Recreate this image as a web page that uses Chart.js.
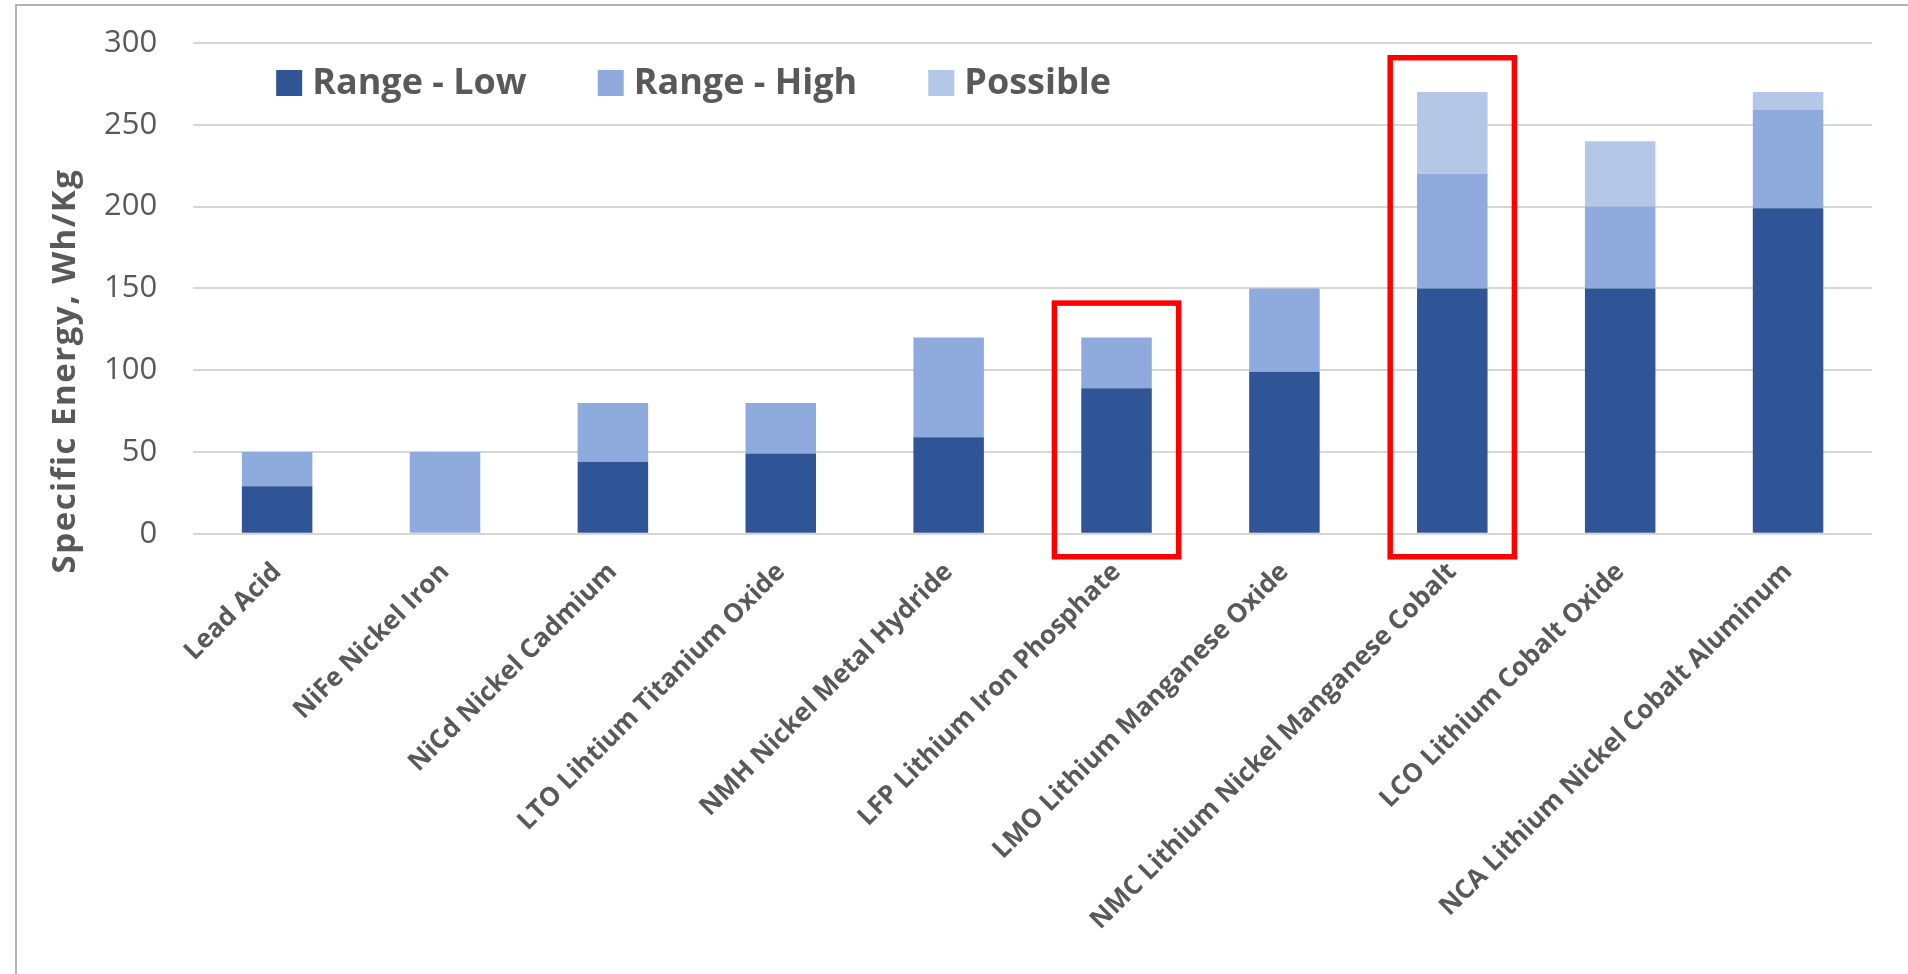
<!DOCTYPE html>
<html>
<head>
<meta charset="utf-8">
<title>Specific Energy by Battery Chemistry</title>
<script src="https://cdn.jsdelivr.net/npm/chart.js@4.4.1/dist/chart.umd.min.js"></script>
<style>
  html, body { margin: 0; padding: 0; background: #fff; }
  #wrap { position: relative; width: 1908px; height: 974px; }
  /* cropped excel frame: only top + left edges visible */
  #frame { position: absolute; left: 15px; top: 4px; right: -10px; bottom: -10px;
           border-left: 2px solid #b3b3b3; border-top: 2px solid #b3b3b3; }
  #chart { position: absolute; left: 0; top: 0; }
</style>
</head>
<body>
<div id="wrap">
  <div id="frame"></div>
  <canvas id="chart" width="1908" height="974"></canvas>
</div>
<script>
// battery chemistries, specific energy in Wh/kg
const categories = [
  'Lead Acid',
  'NiFe Nickel Iron',
  'NiCd Nickel Cadmium',
  'LTO Lihtium Titanium Oxide',
  'NMH Nickel Metal Hydride',
  'LFP Lithium Iron Phosphate',
  'LMO Lithium Manganese Oxide',
  'NMC Lithium Nickel Manganese Cobalt',
  'LCO Lithium Cobalt Oxide',
  'NCA Lithium Nickel Cobalt Aluminum'
];

const rangeLow  = [29, 0, 44, 49, 59, 89, 99, 150, 150, 199];
const rangeHigh = [50, 50, 80, 80, 120, 120, 150, 220, 200, 259];
const possible  = [null, null, null, null, null, null, null, 270, 240, 270];

const yTicks = [0, 50, 100, 150, 200, 250, 300];

// red boxes drawn around two of the bars (index, value of the box top)
const highlightIdx = [5, 7];
const highlightTop = [141, 291];

const yTitle = 'Specific Energy, Wh/Kg';

const GREY = '#595959';
const FONT = "'Open Sans', 'DejaVu Sans', sans-serif";

// floating segments so each colour sits on top of the previous one
const highSeg = rangeHigh.map((v, i) => [rangeLow[i], v]);
const possSeg = possible.map((v, i) => v == null ? null : [rangeHigh[i], v]);


// excel style legend sitting inside the plot, one row
const inlineLegend = {
  id: 'inlineLegend',
  afterDraw(chart) {
    const ctx = chart.ctx;
    const ca = chart.chartArea;
    let x = ca.left + 83;
    const yMid = ca.top + 40;
    ctx.save();
    ctx.font = 'bold 36px ' + FONT;
    ctx.textBaseline = 'middle';
    ctx.textAlign = 'left';
    chart.data.datasets.forEach(ds => {
      ctx.fillStyle = ds.backgroundColor;
      ctx.fillRect(x, yMid - 13, 26, 26);
      x += 26 + 10;
      ctx.fillStyle = GREY;
      ctx.fillText(ds.label, x, yMid + 1);
      x += ctx.measureText(ds.label).width + 71;
    });
    ctx.restore();
  }
};

// rotated y axis title, placed like the original (a bit below centre)
const axisTitle = {
  id: 'axisTitle',
  afterDraw(chart) {
    const ctx = chart.ctx;
    ctx.save();
    ctx.translate(75, 371);
    ctx.rotate(-Math.PI / 2);
    ctx.font = 'bold 33px ' + FONT;
    ctx.letterSpacing = '1.5px';
    ctx.fillStyle = GREY;
    ctx.textAlign = 'center';
    ctx.textBaseline = 'alphabetic';
    ctx.fillText(yTitle, 0, 0);
    ctx.restore();
  }
};

// red highlight rectangles
const redBoxes = {
  id: 'redBoxes',
  afterDatasetsDraw(chart) {
    const ctx = chart.ctx;
    const xs = chart.scales.x, ys = chart.scales.y;
    const step = xs.width / categories.length;
    ctx.save();
    ctx.strokeStyle = '#ff0000';
    ctx.lineWidth = 5.5;
    for (let k = 0; k < highlightIdx.length; k++) {
      const cx = xs.getPixelForValue(highlightIdx[k]);
      const top = ys.getPixelForValue(highlightTop[k]);
      const bottom = ys.getPixelForValue(0) + 23;
      ctx.strokeRect(cx - step * 0.37, top, step * 0.74, bottom - top);
    }
    ctx.restore();
  }
};


new Chart(document.getElementById('chart'), {
  type: 'bar',
  data: {
    labels: categories,
    datasets: [
      { label: 'Range - Low',  data: rangeLow,  backgroundColor: '#2F5597' },
      { label: 'Range - High', data: highSeg,   backgroundColor: '#8FAADC' },
      { label: 'Possible',     data: possSeg,   backgroundColor: '#B4C7E7' }
    ]
  },
  options: {
    responsive: false,
    animation: false,
    layout: { padding: { left: 68, top: 43, right: 36, bottom: 23 } },
    datasets: {
      bar: { grouped: false, barPercentage: 0.42, categoryPercentage: 1.0 }
    },
    plugins: {
      tooltip: { enabled: false },
      legend: { display: false }
    },
    scales: {
      x: {
        grid: { display: false },
        border: { display: false },
        ticks: {
          autoSkip: false,
          maxRotation: 45,
          minRotation: 45,
          padding: 15,
          color: GREY,
          font: { family: FONT, size: 26, weight: 'bold' }
        }
      },
      y: {
        min: 0,
        max: 300,
        afterBuildTicks: (axis) => { axis.ticks = yTicks.map(v => ({ value: v })); },
        // tick padding also gets added above the plot, undo that
        afterFit: (axis) => { axis.paddingTop = 20; axis.paddingBottom = 20; },
        grid: { color: '#d6d6d6', lineWidth: 2, drawTicks: false },
        border: { display: false },
        ticks: {
          padding: 36,
          color: GREY,
          font: { family: FONT, size: 31 }
        }
      }
    }
  },
  plugins: [redBoxes, inlineLegend, axisTitle]
});
</script>
</body>
</html>
